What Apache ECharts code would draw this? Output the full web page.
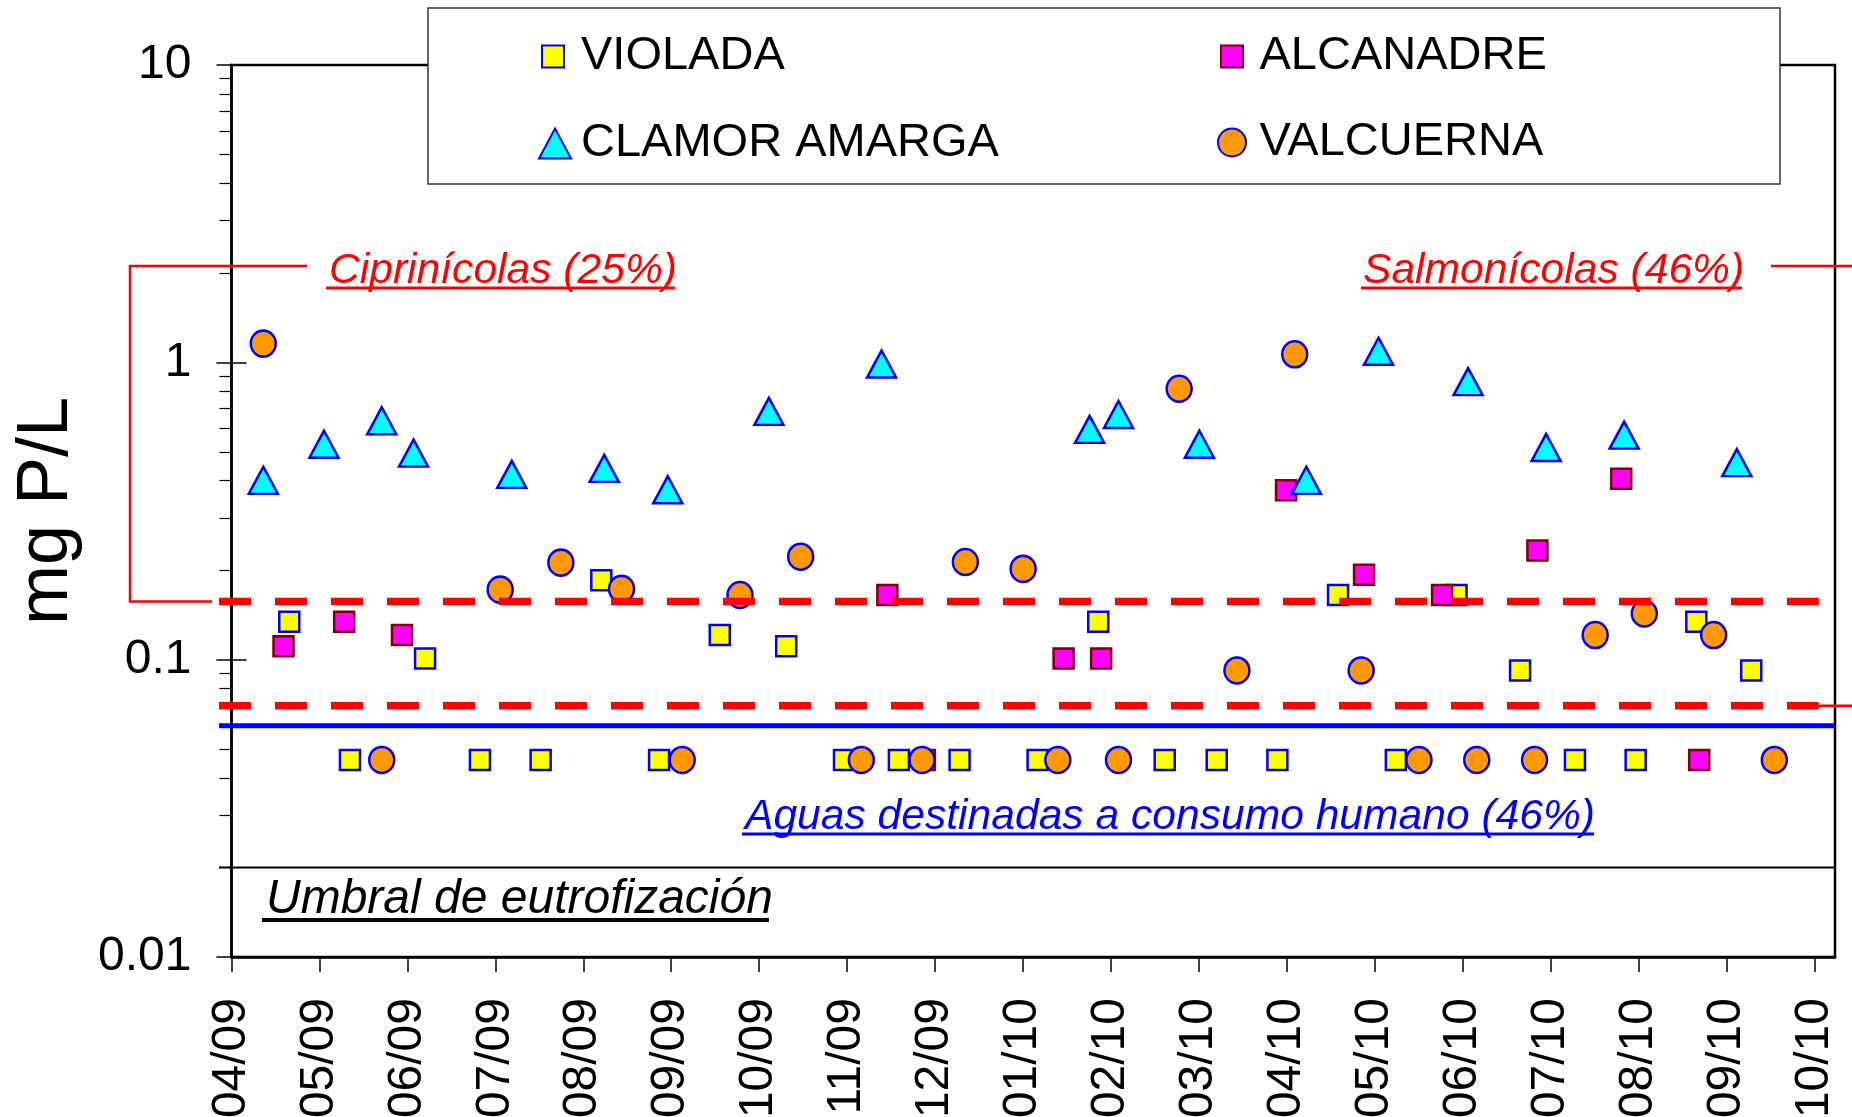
<!DOCTYPE html>
<html>
<head>
<meta charset="utf-8">
<script src="https://cdn.jsdelivr.net/npm/echarts@6.0.0/dist/echarts.min.js"></script>
<style>
  body { margin: 0; padding: 0; background: #fff; }
  #chart { width: 1852px; height: 1117px; }
</style>
</head>
<body>
<div id="chart"></div>
<script>
// fósforo total por estación, mg P/L (eje log), abr 2009 - oct 2010
const FONT = "'Liberation Sans', Arial, sans-serif";
const START = Date.UTC(2009, 3, 1);
const DAYS_PER_MONTH = 30.4375;
const X_MAX_DAY = 555;

const monthLabels = ['04/09', '05/09', '06/09', '07/09', '08/09', '09/09', '10/09', '11/09', '12/09',
  '01/10', '02/10', '03/10', '04/10', '05/10', '06/10', '07/10', '08/10', '09/10', '10/10'];

const violadaDates = ['2009-04-21', '2009-05-12', '2009-06-07', '2009-06-26', '2009-07-17', '2009-08-07',
  '2009-08-27', '2009-09-17', '2009-10-10', '2009-10-30', '2009-11-18', '2009-12-09', '2010-01-05',
  '2010-01-26', '2010-02-18', '2010-03-08', '2010-03-29', '2010-04-19', '2010-05-09', '2010-05-30',
  '2010-06-21', '2010-07-10', '2010-07-31', '2010-08-21', '2010-09-09'];
const violadaValues = [0.134, 0.046, 0.101, 0.046, 0.046, 0.185, 0.046, 0.121, 0.111, 0.046, 0.046, 0.046, 0.046,
  0.134, 0.046, 0.046, 0.046, 0.165, 0.046, 0.165, 0.092, 0.046, 0.046, 0.134, 0.092];

const alcanadreDates = ['2009-04-19', '2009-05-10', '2009-05-30', '2009-11-14', '2009-11-27', '2010-01-14',
  '2010-01-27', '2010-04-01', '2010-04-28', '2010-05-25', '2010-06-27', '2010-07-26', '2010-08-22'];
const alcanadreValues = [0.111, 0.134, 0.121, 0.165, 0.046, 0.101, 0.101, 0.371, 0.193, 0.165, 0.233, 0.406, 0.046];

const clamorDates = ['2009-04-12', '2009-05-03', '2009-05-23', '2009-06-03', '2009-07-07', '2009-08-08',
  '2009-08-30', '2009-10-04', '2009-11-12', '2010-01-23', '2010-02-02', '2010-03-02', '2010-04-08',
  '2010-05-03', '2010-06-03', '2010-06-30', '2010-07-27', '2010-09-04'];
const clamorValues = [0.401, 0.53, 0.636, 0.495, 0.42, 0.44, 0.373, 0.684, 0.987, 0.595, 0.668, 0.53, 0.401,
  1.089, 0.861, 0.517, 0.569, 0.46];

const valcuernaDates = ['2009-04-12', '2009-05-23', '2009-07-03', '2009-07-24', '2009-08-14', '2009-09-04',
  '2009-09-24', '2009-10-15', '2009-11-05', '2009-11-26', '2009-12-11', '2009-12-31', '2010-01-12',
  '2010-02-02', '2010-02-23', '2010-03-15', '2010-04-04', '2010-04-27', '2010-05-17', '2010-06-06',
  '2010-06-26', '2010-07-17', '2010-08-03', '2010-08-27', '2010-09-17'];
const valcuernaValues = [1.156, 0.046, 0.172, 0.212, 0.173, 0.046, 0.165, 0.222, 0.046, 0.046, 0.213, 0.202, 0.046,
  0.046, 0.815, 0.092, 1.064, 0.092, 0.046, 0.046, 0.046, 0.121, 0.143, 0.121, 0.046];

// umbrales (mg P/L)
const cyprinidLimit = 0.157;
const salmonidLimit = 0.07;
const drinkingLimit = 0.06;
const eutrophLimit = 0.02;

function dayOf(s) {
  const p = s.split('-').map(Number);
  return (Date.UTC(p[0], p[1] - 1, p[2]) - START) / 86400000;
}
function pairs(dates, values) {
  return dates.map((d, i) => [dayOf(d), values[i]]);
}

function scatter(name, dates, values, symbol, size, fill, border) {
  return {
    name: name,
    type: 'scatter',
    data: pairs(dates, values),
    symbol: symbol,
    symbolSize: size,
    itemStyle: { color: fill, borderColor: border, borderWidth: 2.5, opacity: 1 },
    emphasis: { disabled: true }
  };
}

function hLine(value, end, style) {
  return {
    type: 'line',
    xAxisIndex: 1,
    yAxisIndex: 2,
    data: [[0, value], [end, value]],
    symbol: 'none',
    silent: true,
    z: 3,
    lineStyle: style
  };
}

function legendItem(name, left, top, w, h, padLeft) {
  return {
    data: [name],
    left: left,
    top: top,
    padding: 0,
    itemWidth: w,
    itemHeight: h,
    selectedMode: false,
    textStyle: { fontFamily: FONT, fontSize: 47, color: '#000', lineHeight: h, padding: [0, 0, 0, padLeft] }
  };
}

const chart = echarts.init(document.getElementById('chart'));

const logAxis = { type: 'log', logBase: 10, min: 0.01, max: 10 };

chart.setOption({
  animation: false,
  backgroundColor: '#fff',
  textStyle: { fontFamily: FONT },
  grid: [
    { left: 231.5, right: 17, top: 65, bottom: 160, show: true, borderColor: '#000', borderWidth: 2.5,
      backgroundColor: 'transparent', outerBoundsMode: 'none' },
    { left: 219, right: 17, top: 65, bottom: 160, outerBoundsMode: 'none' }
  ],
  xAxis: [
    {
      type: 'value', gridIndex: 0, min: 0, max: X_MAX_DAY,
      splitLine: { show: false },
      axisLine: { lineStyle: { color: '#000', width: 2.5 } },
      axisTick: {
        length: 15, lineStyle: { color: '#000', width: 1.5 },
        customValues: monthLabels.map((_, i) => i * DAYS_PER_MONTH)
      },
      axisLabel: {
        customValues: monthLabels.map((_, i) => i * DAYS_PER_MONTH),
        rotate: 90, margin: 41, fontSize: 48, color: '#000', fontFamily: FONT,
        formatter: v => monthLabels[Math.round(v / DAYS_PER_MONTH)]
      }
    },
    { type: 'value', gridIndex: 1, min: 0, max: 100, show: false }
  ],
  yAxis: [
    Object.assign({}, logAxis, {
      gridIndex: 0,
      position: 'left',
      name: 'mg P/L',
      nameLocation: 'middle',
      nameRotate: 90,
      nameGap: 148,
      nameMoveOverlap: false,
      nameTextStyle: { fontSize: 72, color: '#000', fontFamily: FONT },
      splitLine: { show: false },
      axisLine: { show: true, lineStyle: { color: '#000', width: 2.5 } },
      axisTick: { length: 15, lineStyle: { color: '#000', width: 1.5 } },
      minorTick: { show: true, splitNumber: 9, length: 12, lineStyle: { color: '#000', width: 1.2 } },
      axisLabel: { margin: 40, fontSize: 48, color: '#000', fontFamily: FONT, formatter: v => String(v) }
    }),
    Object.assign({}, logAxis, {
      gridIndex: 0,
      position: 'left',
      splitLine: { show: false },
      axisLine: { show: false },
      axisLabel: { show: false },
      axisTick: { inside: true, length: 15, lineStyle: { color: '#000', width: 1.5 } }
    }),
    Object.assign({}, logAxis, { gridIndex: 1, show: false })
  ],
  legend: [
    legendItem('VIOLADA', 541, 33, 22, 22, 12),
    legendItem('ALCANADRE', 1220, 33, 22, 22, 11.5),
    legendItem('CLAMOR AMARGA', 538, 120, 32, 30, 5),
    legendItem('VALCUERNA', 1217, 119, 29, 28, 8)
  ],
  series: [
    scatter('VIOLADA', violadaDates, violadaValues, 'rect', 20, '#FFFF00', '#0000FF'),
    scatter('ALCANADRE', alcanadreDates, alcanadreValues, 'rect', 20, '#FF00FF', '#800000'),
    scatter('CLAMOR AMARGA', clamorDates, clamorValues, 'triangle', [29, 27], '#00FFFF', '#0000FF'),
    scatter('VALCUERNA', valcuernaDates, valcuernaValues, 'circle', [25, 26], '#FF9900', '#0000FF'),
    hLine(eutrophLimit, 100, { color: '#000', width: 2 }),
    hLine(drinkingLimit, 100, { color: '#0000FF', width: 5 }),
    hLine(salmonidLimit, 99, { color: '#FF0000', width: 7.5, type: [32, 24], cap: 'butt' }),
    hLine(cyprinidLimit, 99, { color: '#FF0000', width: 7.5, type: [32, 24], cap: 'butt' })
  ]
});

// anotaciones: recuadro de leyenda, rótulos subrayados y corchetes rojos
const yCip = chart.convertToPixel({ yAxisIndex: 0 }, cyprinidLimit);
const ySal = chart.convertToPixel({ yAxisIndex: 0 }, salmonidLimit);
const labelY = 266;

function label(text, x, baseline, size, color, ulFrom, ulTo, ulWidth) {
  return [
    {
      type: 'text', z: 5,
      style: {
        text: text, x: x, y: baseline - 0.3465 * size + 3.5, verticalAlign: 'middle', align: 'left',
        font: 'italic ' + size + 'px ' + FONT, fill: color
      }
    },
    {
      type: 'line', z: 5,
      shape: { x1: ulFrom, y1: baseline + ulWidth + 3, x2: ulTo, y2: baseline + ulWidth + 3 },
      style: { stroke: color, lineWidth: ulWidth }
    }
  ];
}

const red = '#FF0000';
chart.setOption({
  graphic: [
    {
      type: 'rect', z: 3,
      shape: { x: 428, y: 8, width: 1352, height: 176 },
      style: { fill: '#fff', stroke: '#333', lineWidth: 1.5 }
    },
    {
      type: 'polyline', z: 5,
      shape: { points: [[307, labelY], [130, labelY], [130, yCip], [212, yCip]] },
      style: { stroke: red, lineWidth: 2.5, fill: null }
    },
    {
      type: 'line', z: 5,
      shape: { x1: 1771, y1: labelY, x2: 1852, y2: labelY },
      style: { stroke: red, lineWidth: 2.5 }
    },
    {
      type: 'line', z: 5,
      shape: { x1: 1817, y1: ySal, x2: 1852, y2: ySal },
      style: { stroke: red, lineWidth: 2.5 }
    }
  ].concat(
    label('Ciprinícolas (25%)', 329, 282, 42.6, red, 326, 675, 3),
    label('Salmonícolas (46%)', 1363, 282, 42.6, red, 1361, 1742, 3),
    label('Aguas destinadas a consumo humano (46%)', 745, 828, 42.6, '#0000FF', 742, 1594, 3),
    label('Umbral de eutrofización', 266, 913, 48, '#000', 262, 769, 4)
  )
});
</script>
</body>
</html>
